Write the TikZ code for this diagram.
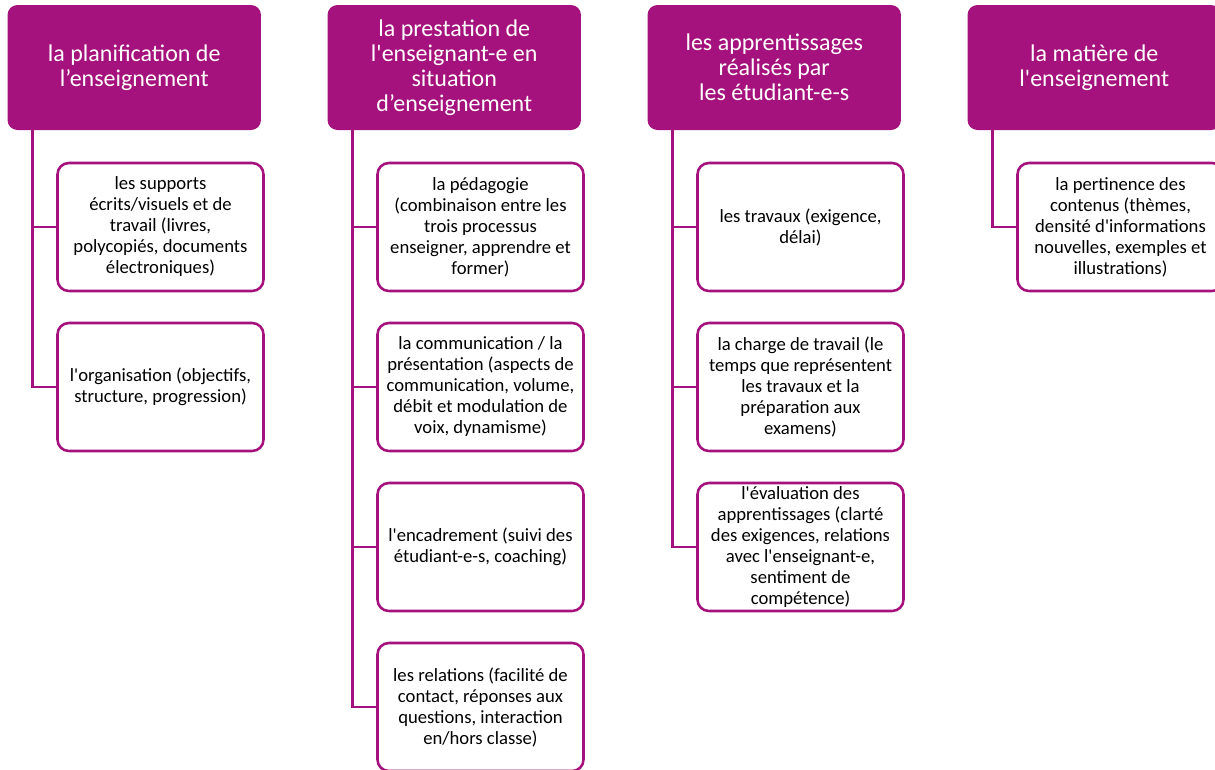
\documentclass[tikz,border=0pt]{standalone}
\usepackage{fontspec}
\setmainfont{Carlito}[Ligatures=TeXOff]
\definecolor{mag}{RGB}{165,17,125}
\begin{document}
\begin{tikzpicture}[x=0.75pt,y=-0.75pt,
  head/.style={rectangle,rounded corners=7.5pt,fill=mag,draw=none,text=white,
    minimum width=190.1pt,minimum height=93.75pt,align=center,inner sep=2pt,
    font=\fontsize{18}{18.8}\selectfont},
  item/.style={rectangle,rounded corners=8.5pt,fill=white,draw=mag,line width=1.9pt,text=black,
    minimum width=154.5pt,minimum height=96pt,align=center,inner sep=2pt,
    execute at begin node={\rule{0pt}{14pt}},
    font=\fontsize{14}{15.75}\selectfont},
  link/.style={draw=mag,line width=1.9pt}]
\useasboundingbox (0,0) rectangle (1215,769);
\clip (0,0) rectangle (1215,769);
% headers
\node[head] (h1) at (134.25,67.5) {la planification de\\l’enseignement};
\node[head] (h2) at (454.25,67.5) {la prestation de\\l'enseignant-e en\\situation\\d’enseignement};
\node[head] (h3) at (774.25,67.5) {les apprentissages\\réalisés par\\les étudiant-e-s};
\node[head] (h4) at (1094.25,67.5) {la matière de\\l'enseignement};
% trunk start points
\coordinate (v1) at ([xshift=18.75pt]h1.south west);
\coordinate (v2) at ([xshift=18.75pt]h2.south west);
\coordinate (v3) at ([xshift=18.75pt]h3.south west);
\coordinate (v4) at ([xshift=18.75pt]h4.south west);
% items column 1
\node[item] (c11) at (160.5,227) {les supports\\écrits/visuels et de\\travail (livres,\\polycopiés, documents\\électroniques)};
\node[item] (c12) at (160.5,387) {l'organisation (objectifs,\\structure, progression)};
% column 2
\node[item] (c21) at (480.5,227) {la pédagogie\\(combinaison entre les\\trois processus\\enseigner, apprendre et\\former)};
\node[item] (c22) at (480.5,387) {la communication / la\\présentation (aspects de\\communication, volume,\\débit et modulation de\\voix, dynamisme)};
\node[item] (c23) at (480.5,547) {l'encadrement (suivi des\\étudiant-e-s, coaching)};
\node[item] (c24) at (480.5,707) {les relations (facilité de\\contact, réponses aux\\questions, interaction\\en/hors classe)};
% column 3
\node[item] (c31) at (800.5,227) {les travaux (exigence,\\délai)};
\node[item] (c32) at (800.5,387) {la charge de travail (le\\temps que représentent\\les travaux et la\\préparation aux\\examens)};
\node[item] (c33) at (800.5,547) {l'évaluation des\\apprentissages (clarté\\des exigences, relations\\avec l'enseignant-e,\\sentiment de\\compétence)};
% column 4
\node[item] (c41) at (1120.5,227) {la pertinence des\\contenus (thèmes,\\densité d'informations\\nouvelles, exemples et\\illustrations)};
% links
\path[link] (v1) |- (c11.west);
\path[link] (v1) |- (c12.west);
\path[link] (v2) |- (c21.west);
\path[link] (v2) |- (c22.west);
\path[link] (v2) |- (c23.west);
\path[link] (v2) |- (c24.west);
\path[link] (v3) |- (c31.west);
\path[link] (v3) |- (c32.west);
\path[link] (v3) |- (c33.west);
\path[link] (v4) |- (c41.west);
\end{tikzpicture}
\end{document}
